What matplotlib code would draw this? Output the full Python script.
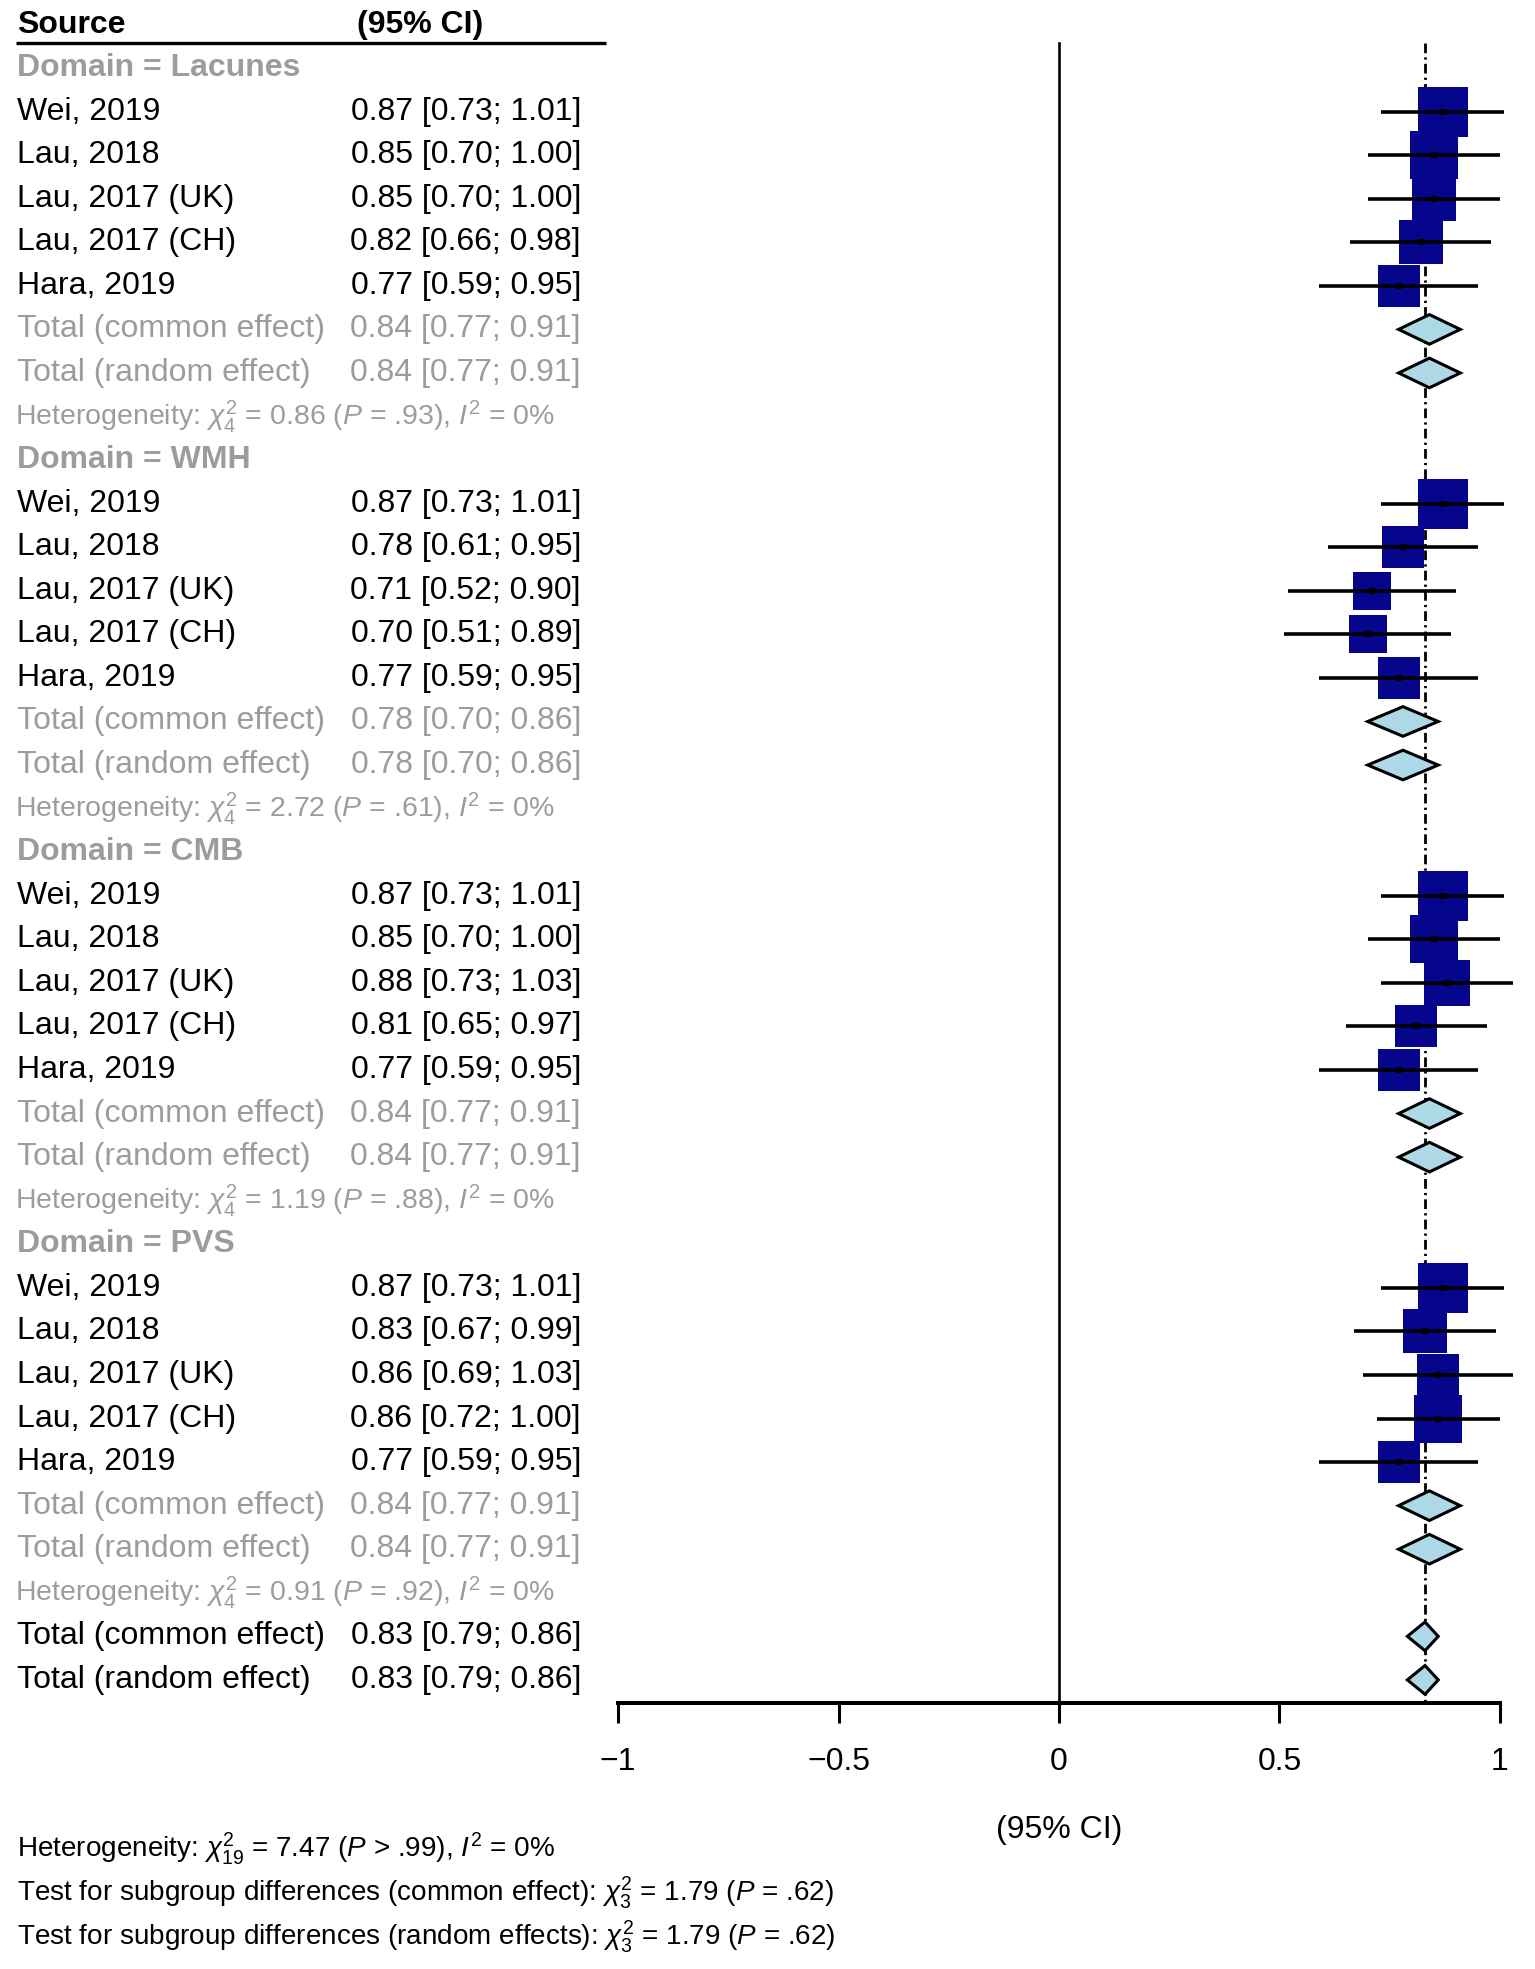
import matplotlib
matplotlib.use("Agg")
import matplotlib.pyplot as plt
from matplotlib.patches import Polygon
from matplotlib.transforms import blended_transform_factory

plt.rcParams['font.family'] = ['Liberation Sans', 'DejaVu Sans']
plt.rcParams['mathtext.fontset'] = 'custom'
plt.rcParams['mathtext.rm'] = 'Liberation Sans'
plt.rcParams['mathtext.it'] = 'Liberation Sans:italic'
plt.rcParams['mathtext.bf'] = 'Liberation Sans:bold'

# ---------------- data ----------------
studies = ["Wei, 2019", "Lau, 2018", "Lau, 2017 (UK)", "Lau, 2017 (CH)", "Hara, 2019"]
domains = ["Lacunes", "WMH", "CMB", "PVS"]

lacunes_est = [0.87, 0.85, 0.85, 0.82, 0.77]
lacunes_lo = [0.73, 0.70, 0.70, 0.66, 0.59]
lacunes_hi = [1.01, 1.00, 1.00, 0.98, 0.95]
lacunes_w = [6.3, 5.6, 5.1, 4.7, 4.3]

wmh_est = [0.87, 0.78, 0.71, 0.70, 0.77]
wmh_lo = [0.73, 0.61, 0.52, 0.51, 0.59]
wmh_hi = [1.01, 0.95, 0.90, 0.89, 0.95]
wmh_w = [6.3, 4.3, 3.7, 3.5, 4.3]

cmb_est = [0.87, 0.85, 0.88, 0.81, 0.77]
cmb_lo = [0.73, 0.70, 0.73, 0.65, 0.59]
cmb_hi = [1.01, 1.00, 1.03, 0.97, 0.95]
cmb_w = [6.3, 5.8, 5.3, 4.5, 4.3]

pvs_est = [0.87, 0.83, 0.86, 0.86, 0.77]
pvs_lo = [0.73, 0.67, 0.69, 0.72, 0.59]
pvs_hi = [1.01, 0.99, 1.03, 1.00, 0.95]
pvs_w = [6.3, 5.1, 4.6, 5.6, 4.3]

# subgroup pooled (common, random share the same values)
sub_est = [0.84, 0.78, 0.84, 0.84]
sub_lo = [0.77, 0.70, 0.77, 0.77]
sub_hi = [0.91, 0.86, 0.91, 0.91]

# heterogeneity per subgroup: df, chi2, p
het_df = [4, 4, 4, 4]
het_chi = ["0.86", "2.72", "1.19", "0.91"]
het_p = [".93", ".61", ".88", ".92"]
het_i2 = ["0%", "0%", "0%", "0%"]

overall_est = 0.83
overall_lo = 0.79
overall_hi = 0.86

xticks = [-1, -0.5, 0, 0.5, 1]
xtick_labels = ["\u22121", "\u22120.5", "0", "0.5", "1"]

footer_lines = [
    r"Heterogeneity: $\chi^2_{19}$ = 7.47 ($P$ > .99), $I^2$ = 0%",
    r"Test for subgroup differences (common effect): $\chi^2_3$ = 1.79 ($P$ = .62)",
    r"Test for subgroup differences (random effects): $\chi^2_3$ = 1.79 ($P$ = .62)",
]

groups = [
    (lacunes_est, lacunes_lo, lacunes_hi, lacunes_w),
    (wmh_est, wmh_lo, wmh_hi, wmh_w),
    (cmb_est, cmb_lo, cmb_hi, cmb_w),
    (pvs_est, pvs_lo, pvs_hi, pvs_w),
]

# ---------------- style ----------------
GREY = '#9c9c9c'
NAVY = '#06068c'
DIAMOND = '#add8e6'
FS = 23
FS_SMALL = 20.5
FS_FOOT = 20.1
W_MAX = 6.3
SIDE_MAX_PT = 36.0

W, H = 1535, 1969
fig = plt.figure(figsize=(W / 100, H / 100), dpi=100)
bg = fig.add_axes([0, 0, 1, 1])
bg.set_xlim(0, W)
bg.set_ylim(H, 0)
bg.axis('off')

ax_left, ax_right, ax_top, ax_bot = 596, 1535, 0, 1703
ax = fig.add_axes([ax_left / W, (H - ax_bot) / H, (ax_right - ax_left) / W, (ax_bot - ax_top) / H])
ax.set_facecolor('none')
ax.set_xlim(-1.0499, 1.0794)
ax.set_ylim(38.53, -0.561)

tr = blended_transform_factory(bg.transData, ax.transData)

X_NAME = 17
X_CI = 581

def ci_text(e, l, h):
    return f"{e:.2f} [{l:.2f}; {h:.2f}]"

# header
bg.text(X_NAME, 25, "Source", fontsize=FS, fontweight='bold', va='center', ha='left')
bg.text(357, 25, "(95% CI)", fontsize=FS, fontweight='bold', va='center', ha='left')
bg.plot([16, 606], [43, 43], color='black', lw=2.4, solid_capstyle='butt')

DH = 0.34
row = 1
for gi, (est, lo, hi, wts) in enumerate(groups):
    ax_row = row
    bg.text(X_NAME, ax_row, f"Domain = {domains[gi]}", transform=tr, fontsize=FS,
            fontweight='bold', color=GREY, va='center', ha='left')
    for si in range(len(studies)):
        r = row + 1 + si
        bg.text(X_NAME, r, studies[si], transform=tr, fontsize=FS, va='center', ha='left')
        bg.text(X_CI, r, ci_text(est[si], lo[si], hi[si]), transform=tr, fontsize=FS,
                va='center', ha='right')
        side = SIDE_MAX_PT * (wts[si] / W_MAX) ** 0.5
        ax.plot([est[si]], [r], marker='s', ms=side, color=NAVY, mew=0, zorder=2,
                clip_on=False)
        ax.plot([lo[si], hi[si]], [r, r], color='black', lw=2.6, zorder=3,
                solid_capstyle='butt', clip_on=False)
        ax.plot([est[si]], [r], marker='s', ms=4, color='black', mew=0, zorder=4)
    for k, lab in enumerate(["Total (common effect)", "Total (random effect)"]):
        r = row + 6 + k
        bg.text(X_NAME, r, lab, transform=tr, fontsize=FS, color=GREY, va='center', ha='left')
        bg.text(X_CI, r, ci_text(sub_est[gi], sub_lo[gi], sub_hi[gi]), transform=tr,
                fontsize=FS, color=GREY, va='center', ha='right')
        poly = Polygon([(sub_lo[gi], r), (sub_est[gi], r - DH), (sub_hi[gi], r),
                        (sub_est[gi], r + DH)], closed=True, facecolor=DIAMOND,
                       edgecolor='black', lw=2.2, zorder=5)
        ax.add_patch(poly)
    r = row + 8
    het = (r"Heterogeneity: $\chi^2_{%d}$ = %s ($P$ = %s), $I^2$ = %s"
           % (het_df[gi], het_chi[gi], het_p[gi], het_i2[gi]))
    bg.text(15, r, het, transform=tr, fontsize=FS_SMALL, color=GREY, va='center', ha='left')
    row += 9

for k, lab in enumerate(["Total (common effect)", "Total (random effect)"]):
    r = row + k
    bg.text(X_NAME, r, lab, transform=tr, fontsize=FS, va='center', ha='left')
    bg.text(X_CI, r, ci_text(overall_est, overall_lo, overall_hi), transform=tr,
            fontsize=FS, va='center', ha='right')
    poly = Polygon([(overall_lo, r), (overall_est, r - 0.33), (overall_hi, r),
                    (overall_est, r + 0.33)], closed=True, facecolor=DIAMOND,
                   edgecolor='black', lw=2.2, zorder=5)
    ax.add_patch(poly)

# reference lines
ax.plot([0, 0], [0.43, 38.53], color='black', lw=1.9, zorder=1, clip_on=False)
ax.plot([overall_est, overall_est], [0.43, 38.53], color='black', lw=2.0,
        linestyle=(0, (3.5, 1.5, 0.8, 1.5)), zorder=1, clip_on=False)

# axis
for s in ['top', 'right', 'left']:
    ax.spines[s].set_visible(False)
ax.spines['bottom'].set_bounds(-1, 1)
ax.spines['bottom'].set_linewidth(2.9)
ax.spines['bottom'].set_capstyle('projecting')
ax.set_xticks(xticks)
ax.set_xticklabels(xtick_labels)
ax.tick_params(axis='x', direction='out', length=14.5, width=2.2, labelsize=FS, pad=17)
ax.set_yticks([])

bg.text(0, 1830, "(95% CI)", transform=blended_transform_factory(ax.transData, bg.transData),
        fontsize=FS, ha='center', va='center')

for i, line in enumerate(footer_lines):
    bg.text(17, 1849 + i * 44, line, fontsize=FS_FOOT, va='center', ha='left')

fig.savefig("out.png", dpi=100)
